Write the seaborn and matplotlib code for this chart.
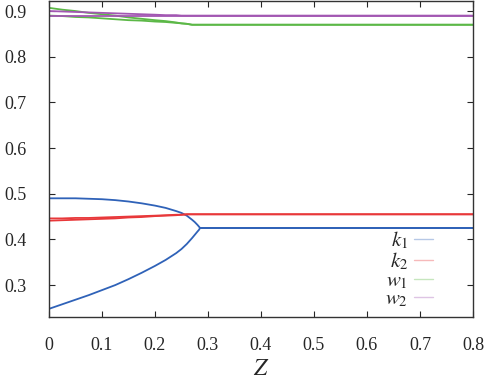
import numpy as np
import pandas as pd
import seaborn as sns
import matplotlib.pyplot as plt
from matplotlib.lines import Line2D

# ── DATA ────────────────────────────────────────────────
z = [0.0, 0.025, 0.05, 0.075, 0.1, 0.125, 0.15, 0.175, 0.2, 0.22, 0.24,
     0.25, 0.26, 0.27, 0.275, 0.28, 0.283, 0.285, 0.3, 0.8]

k1_a = [0.490, 0.490, 0.490, 0.489, 0.488, 0.486, 0.483, 0.479, 0.474, 0.469, 0.462,
        0.458, 0.452, 0.443, 0.438, 0.432, 0.428, 0.425, 0.425, 0.425]
k1_b = [0.248, 0.258, 0.268, 0.278, 0.289, 0.300, 0.313, 0.327, 0.342, 0.355, 0.370,
        0.379, 0.390, 0.403, 0.410, 0.417, 0.421, 0.425, 0.425, 0.425]

k2_a = [0.441, 0.442, 0.443, 0.444, 0.445, 0.446, 0.448, 0.449, 0.451, 0.452, 0.453,
        0.454, 0.455, 0.455, 0.455, 0.455, 0.455, 0.455, 0.455, 0.455]
k2_b = [0.446, 0.446, 0.447, 0.447, 0.448, 0.449, 0.450, 0.451, 0.452, 0.453, 0.454,
        0.454, 0.455, 0.455, 0.455, 0.455, 0.455, 0.455, 0.455, 0.455]

w1_a = [0.907, 0.903, 0.900, 0.896, 0.893, 0.890, 0.886, 0.883, 0.880, 0.878, 0.875,
        0.873, 0.872, 0.870, 0.870, 0.870, 0.870, 0.870, 0.870, 0.870]
w1_b = [0.890, 0.889, 0.887, 0.886, 0.884, 0.882, 0.880, 0.879, 0.877, 0.876, 0.874,
        0.873, 0.872, 0.870, 0.870, 0.870, 0.870, 0.870, 0.870, 0.870]

w2_a = [0.900, 0.899, 0.898, 0.897, 0.896, 0.895, 0.894, 0.893, 0.892, 0.891, 0.891,
        0.890, 0.890, 0.890, 0.890, 0.890, 0.890, 0.890, 0.890, 0.890]
w2_b = [0.890, 0.890, 0.890, 0.890, 0.890, 0.890, 0.890, 0.890, 0.890, 0.890, 0.890,
        0.890, 0.890, 0.890, 0.890, 0.890, 0.890, 0.890, 0.890, 0.890]

labels = ["$k_1$", "$k_2$", "$w_1$", "$w_2$"]
colors = ["#2f62b8", "#e8383a", "#5cb847", "#a257b2"]
series = [(k1_a, k1_b), (k2_a, k2_b), (w1_a, w1_b), (w2_a, w2_b)]

# ── STYLE ──────────────────────────────────────────────
sns.set_style("ticks")
plt.rcParams["font.family"] = ["Liberation Serif", "DejaVu Serif"]
plt.rcParams["mathtext.fontset"] = "stix"
plt.rcParams["xtick.direction"] = "in"
plt.rcParams["ytick.direction"] = "in"

fig = plt.figure(figsize=(4.91, 3.82), dpi=100)
ax = fig.add_axes([0.0998, 0.170, 0.8635, 0.828])

for (a, b), col in zip(series, colors):
    sns.lineplot(x=z, y=a, color=col, linewidth=1.3, ax=ax)
    sns.lineplot(x=z, y=b, color=col, linewidth=1.3, ax=ax)

ax.set_xlim(0, 0.8)
ax.set_ylim(0.23, 0.9225)
ax.set_xticks(np.arange(0, 0.81, 0.1))
ax.set_xticklabels(["0", "0.1", "0.2", "0.3", "0.4", "0.5", "0.6", "0.7", "0.8"])
ax.set_yticks(np.arange(0.3, 0.91, 0.1))
ax.set_yticklabels(["0.3", "0.4", "0.5", "0.6", "0.7", "0.8", "0.9"])
ax.tick_params(top=True, right=True, labelsize=13, length=4, width=0.8)
ax.tick_params(axis="x", pad=14)
ax.tick_params(axis="y", pad=16)
for s in ax.spines.values():
    s.set_linewidth(1.0)
    s.set_color("#333333")
ax.set_xlabel("$Z$", fontsize=17, labelpad=4)
ax.set_ylabel("")

handles = [Line2D([0], [0], color=c, lw=1.0, alpha=0.35) for c in colors]
ax.legend(handles, labels, loc="lower right", bbox_to_anchor=(0.95, -0.035),
          frameon=False, markerfirst=False, handlelength=0.9, handletextpad=0.3,
          fontsize=15, labelspacing=-0.05)

plt.savefig("out.png", dpi=100)
